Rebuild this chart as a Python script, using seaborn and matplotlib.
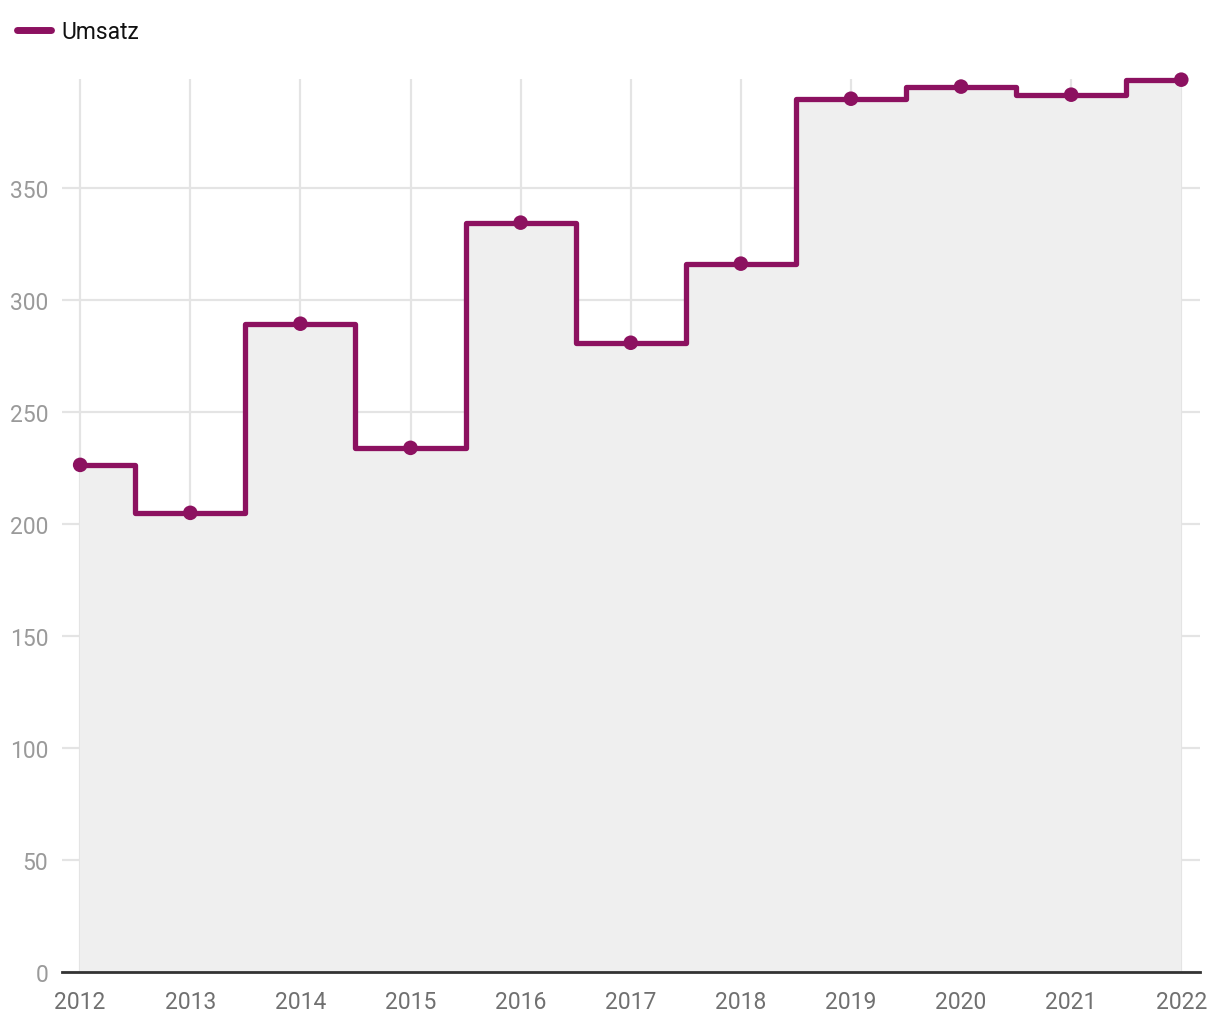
import matplotlib
matplotlib.use("Agg")
import matplotlib.pyplot as plt
import seaborn as sns
import pandas as pd
from matplotlib.lines import Line2D

years = [2012, 2013, 2014, 2015, 2016, 2017, 2018, 2019, 2020, 2021, 2022]
umsatz = [226.3, 204.9, 289.3, 233.9, 334.4, 280.8, 316.1, 389.7, 395.1, 391.5, 398.2]
yticks = [0, 50, 100, 150, 200, 250, 300, 350]

sns.set_theme(style="white")
plt.rcParams['font.family'] = ['Roboto', 'DejaVu Sans']

df = pd.DataFrame({"Jahr": years, "Umsatz": umsatz})
color = "#8c1160"

fig = plt.figure(figsize=(12.2, 10.2), dpi=100)
ax = fig.add_axes([62/1220, 1-973/1020, (1200-62)/1220, (973-80)/1020])

ax.fill_between(df["Jahr"], 0, df["Umsatz"], step="mid", color="#efefef", zorder=1, linewidth=0)
sns.lineplot(data=df, x="Jahr", y="Umsatz", ax=ax, color=color, linewidth=3.8,
             drawstyle="steps-mid", zorder=3, legend=False, clip_on=False)
sns.scatterplot(data=df, x="Jahr", y="Umsatz", ax=ax, color=color, s=110,
                edgecolor="none", zorder=4, legend=False, clip_on=False)

ax.set_xlim(2011.835, 2022.17)
ax.set_ylim(0, 398.5)
ax.set_xticks(years)
ax.set_xticklabels([str(y) for y in years])
ax.set_yticks(yticks)
ax.set_yticklabels([str(v) for v in yticks])
ax.grid(True, color="#e4e4e4", linewidth=1.6, zorder=0)
ax.set_axisbelow(True)
for s in ["top", "right", "left"]:
    ax.spines[s].set_visible(False)
ax.spines["bottom"].set_color("#333333")
ax.spines["bottom"].set_linewidth(2)
ax.tick_params(axis="y", length=0, labelsize=16.5, labelcolor="#9a9a9a", pad=10)
ax.tick_params(axis="x", length=0, labelsize=16.5, labelcolor="#707070", pad=13)
ax.set_xlabel("")
ax.set_ylabel("")

handle = Line2D([0], [0], color=color, linewidth=5, solid_capstyle="round")
fig.legend([handle], ["Umsatz"], loc="upper left", bbox_to_anchor=(-0.003, 1.0),
           frameon=False, fontsize=16.5, handlelength=1.5, handletextpad=0.45,
           labelcolor="#111111")

fig.savefig("out.png", dpi=100, facecolor="white")
